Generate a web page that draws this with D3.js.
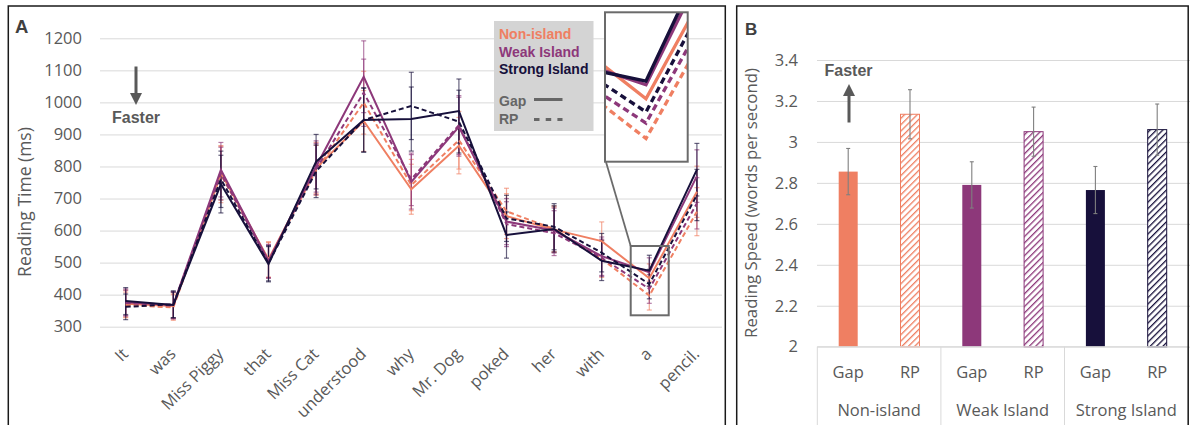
<!DOCTYPE html>
<html>
<head>
<meta charset="utf-8">
<script src="https://cdn.jsdelivr.net/npm/d3@7"></script>
<style>
  body { margin: 0; background: #fff; }
  text { font-family: 'Open Sans', sans-serif; }
</style>
</head>
<body>
<div id="chart"></div>
<script>
// panel A: reading time per word (ms)
var words = ['It', 'was', 'Miss Piggy', 'that', 'Miss Cat', 'understood', 'why',
  'Mr. Dog', 'poked', 'her', 'with', 'a', 'pencil.'];
var nonGap    = [372, 365, 780, 510, 795, 942, 729, 865, 645, 603, 567, 451, 721];
var nonRP     = [368, 360, 775, 508, 788, 999, 742, 882, 660, 605, 512, 397, 659];
var weakGap   = [376, 368, 790, 505, 800, 1080, 752, 924, 628, 600, 520, 470, 770];
var weakRP    = [374, 366, 778, 503, 792, 1030, 760, 929, 620, 592, 515, 418, 685];
var strongGap = [380, 368, 745, 495, 815, 945, 948, 973, 586, 605, 506, 475, 790];
var strongRP  = [362, 370, 760, 498, 785, 945, 989, 940, 638, 612, 531, 433, 711];
var nonGapErr    = [42, 40, 85, 55, 80, 95, 78, 88, 70, 70, 60, 45, 80];
var nonRPErr     = [40, 40, 88, 55, 78, 98, 80, 90, 72, 72, 58, 45, 75];
var weakGapErr   = [42, 42, 85, 52, 80, 112, 85, 92, 72, 70, 60, 45, 82];
var weakRPErr    = [40, 42, 82, 52, 80, 105, 82, 92, 70, 70, 58, 45, 80];
var strongGapErr = [42, 40, 90, 55, 85, 100, 100, 100, 72, 72, 62, 48, 82];
var strongRPErr  = [40, 42, 88, 55, 82, 100, 105, 98, 72, 72, 60, 46, 80];
var timeTicks = [300, 400, 500, 600, 700, 800, 900, 1000, 1100, 1200];

// panel B: reading speed (words per second)
var groups = ['Non-island', 'Weak Island', 'Strong Island'];
var conditions = ['Gap', 'RP'];
var speeds = [2.855, 3.135, 2.79, 3.05, 2.765, 3.06];
var speedErr = [0.113, 0.12, 0.113, 0.12, 0.115, 0.125];
var speedTicks = [2, 2.2, 2.4, 2.6, 2.8, 3, 3.2, 3.4];

var colors = {'Non-island': '#ef7f62', 'Weak Island': '#8d387a', 'Strong Island': '#17103b'};
var gray = '#595959';

var series = [
  {group: 'Non-island', cond: 'Gap', values: nonGap, err: nonGapErr},
  {group: 'Non-island', cond: 'RP', values: nonRP, err: nonRPErr},
  {group: 'Weak Island', cond: 'Gap', values: weakGap, err: weakGapErr},
  {group: 'Weak Island', cond: 'RP', values: weakRP, err: weakRPErr},
  {group: 'Strong Island', cond: 'Gap', values: strongGap, err: strongGapErr},
  {group: 'Strong Island', cond: 'RP', values: strongRP, err: strongRPErr}
];

var svg = d3.select('#chart').append('svg')
  .attr('width', 1190).attr('height', 425);

var defs = svg.append('defs');

// ---------- panel A ----------
var x = d3.scaleBand().domain(words).range([101.9, 720.7]);
var cx = function (w) { return x(w) + x.bandwidth() / 2; };
var y = d3.scaleLinear().domain([300, 1200]).range([326.7, 38.3]);

var gA = svg.append('g');

gA.append('g')
  .attr('transform', 'translate(100,0)')
  .call(d3.axisLeft(y).tickValues(timeTicks).tickSize(-622).tickPadding(18)
    .tickFormat(d3.format('d')))
  .call(function (g) {
    g.select('.domain').remove();
    g.selectAll('line').attr('stroke', '#d9d9d9');
    g.selectAll('text').attr('fill', gray).style('font-size', '16.5px')
      .style('font-family', 'Open Sans');
  });

gA.append('g').selectAll('text')
  .data(words).enter().append('text')
  .attr('transform', function (d) { return 'translate(' + (cx(d) + 3.5) + ',355) rotate(-45)'; })
  .attr('text-anchor', 'end')
  .attr('fill', gray)
  .style('font-size', '16.5px')
  .text(function (d) { return d; });

gA.append('text')
  .attr('transform', 'translate(31,202) rotate(-90)')
  .attr('text-anchor', 'middle')
  .attr('fill', gray)
  .style('font-size', '17.5px')
  .text('Reading Time (ms)');

var line = d3.line()
  .x(function (d, i) { return cx(words[i]); })
  .y(function (d) { return y(d); });

function drawLines(g, width, dash) {
  g.selectAll('path.series')
    .data(series).enter().append('path')
    .attr('class', 'series')
    .attr('d', function (s) { return line(s.values); })
    .attr('fill', 'none')
    .attr('stroke', function (s) { return colors[s.group]; })
    .attr('stroke-width', width)
    .attr('stroke-dasharray', function (s) { return s.cond === 'RP' ? dash : null; });
}

// error bars
series.forEach(function (s) {
  var eb = gA.append('g')
    .attr('stroke', colors[s.group])
    .attr('stroke-opacity', 0.65)
    .attr('stroke-width', 1.2);
  s.values.forEach(function (v, i) {
    var px = cx(words[i]);
    eb.append('line').attr('x1', px).attr('x2', px)
      .attr('y1', y(v - s.err[i])).attr('y2', y(v + s.err[i]));
    eb.append('line').attr('x1', px - 2.5).attr('x2', px + 2.5)
      .attr('y1', y(v - s.err[i])).attr('y2', y(v - s.err[i]));
    eb.append('line').attr('x1', px - 2.5).attr('x2', px + 2.5)
      .attr('y1', y(v + s.err[i])).attr('y2', y(v + s.err[i]));
  });
});

drawLines(gA.append('g'), 2, '5,3');

// legend
var leg = gA.append('g');
leg.append('rect').attr('x', 494).attr('y', 21).attr('width', 99.5).attr('height', 110)
  .attr('fill', '#d4d4d4');
groups.forEach(function (gname, i) {
  leg.append('text')
    .attr('x', 499).attr('y', 39 + i * 17.5)
    .attr('fill', colors[gname])
    .style('font-family', 'Liberation Sans, Arial, sans-serif')
    .style('font-weight', 'bold').style('font-size', '14px')
    .text(gname);
});
conditions.forEach(function (c, i) {
  leg.append('text')
    .attr('x', 499).attr('y', 105.5 + i * 18.5)
    .attr('fill', '#666')
    .style('font-family', 'Liberation Sans, Arial, sans-serif')
    .style('font-weight', 'bold').style('font-size', '14px')
    .text(c);
  leg.append('line')
    .attr('x1', 534).attr('x2', 562.5)
    .attr('y1', 99.5 + i * 20).attr('y2', 99.5 + i * 20)
    .attr('stroke', '#666').attr('stroke-width', 3)
    .attr('stroke-dasharray', c === 'RP' ? '5.5,6.2' : null);
});

// zoom inset around "a"
defs.append('clipPath').attr('id', 'insetClip')
  .append('rect').attr('x', 605).attr('y', 12.3).attr('width', 82.7).attr('height', 149.4);
gA.append('rect').attr('x', 605).attr('y', 12.3).attr('width', 82.7).attr('height', 149.4)
  .attr('fill', '#fff');
var inset = gA.append('g').attr('clip-path', 'url(#insetClip)')
  .append('g').attr('transform', 'translate(-847.4,-541.4) scale(2.3)');
drawLines(inset, 1.45, '2.8,1.75');
gA.append('rect').attr('x', 605).attr('y', 12.3).attr('width', 82.7).attr('height', 149.4)
  .attr('fill', 'none').attr('stroke', '#6b6b6b').attr('stroke-width', 2);
gA.append('rect').attr('x', 630.7).attr('y', 246).attr('width', 38).attr('height', 69.3)
  .attr('fill', 'none').attr('stroke', '#6b6b6b').attr('stroke-width', 2);
gA.append('line').attr('x1', 606).attr('y1', 162).attr('x2', 630.7).attr('y2', 246)
  .attr('stroke', '#6b6b6b').attr('stroke-width', 1.8);

// arrow + "Faster"
defs.append('marker').attr('id', 'head')
  .attr('viewBox', '0 0 10 10').attr('refX', 5).attr('refY', 5)
  .attr('markerWidth', 4).attr('markerHeight', 4).attr('orient', 'auto')
  .append('path').attr('d', 'M0,0 L10,5 L0,10 z').attr('fill', '#595959');
gA.append('line').attr('x1', 136).attr('y1', 66.5).attr('x2', 136).attr('y2', 99)
  .attr('stroke', '#595959').attr('stroke-width', 3).attr('marker-end', 'url(#head)');
gA.append('text').attr('x', 136).attr('y', 122.5).attr('text-anchor', 'middle')
  .attr('fill', '#595959')
  .style('font-family', 'Liberation Sans, Arial, sans-serif')
  .style('font-weight', 'bold').style('font-size', '16px')
  .text('Faster');

gA.append('text').attr('x', 15).attr('y', 33.3)
  .attr('fill', '#404040')
  .style('font-family', 'Liberation Sans, Arial, sans-serif')
  .style('font-weight', 'bold').style('font-size', '18.5px')
  .text('A');

gA.append('rect').attr('x', 8.3).attr('y', 6).attr('width', 717).attr('height', 440)
  .attr('fill', 'none').attr('stroke', '#1a1a1a').attr('stroke-width', 1.5);

// ---------- panel B ----------
var keys = [];
groups.forEach(function (g) { conditions.forEach(function (c) { keys.push(g + '|' + c); }); });
var xb = d3.scaleBand().domain(keys).range([817.3, 1188.1]);
var yb = d3.scaleLinear().domain([2, 3.4]).range([346.7, 60]);
var barW = 19;

var gB = svg.append('g');

gB.append('g')
  .attr('transform', 'translate(817,0)')
  .call(d3.axisLeft(yb).tickValues(speedTicks).tickSize(-373).tickPadding(19)
    .tickFormat(function (d) { return d3.format('')(+d.toFixed(1)); }))
  .call(function (g) {
    g.select('.domain').remove();
    g.selectAll('line').attr('stroke', '#d9d9d9');
    g.selectAll('text').attr('fill', gray).style('font-size', '16.5px')
      .style('font-family', 'Open Sans');
  });

// hatch patterns for RP bars
groups.forEach(function (gname, i) {
  var p = defs.append('pattern').attr('id', 'hatch' + i)
    .attr('patternUnits', 'userSpaceOnUse').attr('width', 4.5).attr('height', 4.5)
    .attr('patternTransform', 'rotate(45)');
  p.append('rect').attr('width', 4.5).attr('height', 4.5).attr('fill', '#fff');
  p.append('line').attr('x1', 0).attr('y1', 0).attr('x2', 0).attr('y2', 4.5)
    .attr('stroke', colors[gname]).attr('stroke-width', 2.6);
});

gB.selectAll('rect.bar')
  .data(keys).enter().append('rect')
  .attr('class', 'bar')
  .attr('x', function (k) { return xb(k) + xb.bandwidth() / 2 - barW / 2; })
  .attr('y', function (k, i) { return yb(speeds[i]); })
  .attr('width', barW)
  .attr('height', function (k, i) { return yb(2) - yb(speeds[i]); })
  .attr('fill', function (k) {
    var g = k.split('|')[0];
    return k.split('|')[1] === 'RP' ? 'url(#hatch' + groups.indexOf(g) + ')' : colors[g];
  })
  .attr('stroke', function (k) { return colors[k.split('|')[0]]; })
  .attr('stroke-width', function (k) { return k.split('|')[1] === 'RP' ? 1 : 0; });

var ebB = gB.append('g').attr('stroke', '#7f7f7f').attr('stroke-width', 1.1);
keys.forEach(function (k, i) {
  var px = xb(k) + xb.bandwidth() / 2;
  var lo = yb(speeds[i] - speedErr[i]), hi = yb(speeds[i] + speedErr[i]);
  ebB.append('line').attr('x1', px).attr('x2', px).attr('y1', lo).attr('y2', hi);
  ebB.append('line').attr('x1', px - 2).attr('x2', px + 2).attr('y1', lo).attr('y2', lo);
  ebB.append('line').attr('x1', px - 2).attr('x2', px + 2).attr('y1', hi).attr('y2', hi);
});

// category axis
gB.append('line').attr('x1', 817.3).attr('x2', 1188.1).attr('y1', 346.7).attr('y2', 346.7)
  .attr('stroke', '#d9d9d9');
[0, 1, 2, 3].forEach(function (i) {
  var px = 817.3 + i * xb.bandwidth() * 2;
  gB.append('line').attr('x1', px).attr('x2', px).attr('y1', 346.7).attr('y2', 425)
    .attr('stroke', '#d9d9d9');
});
gB.selectAll('text.cond')
  .data(keys).enter().append('text')
  .attr('class', 'cond')
  .attr('x', function (k) { return xb(k) + xb.bandwidth() / 2; })
  .attr('y', 378)
  .attr('text-anchor', 'middle')
  .attr('fill', gray).style('font-size', '16.5px')
  .text(function (k) { return k.split('|')[1]; });
gB.selectAll('text.grp')
  .data(groups).enter().append('text')
  .attr('class', 'grp')
  .attr('x', function (g) { return xb(g + '|Gap') + xb.bandwidth(); })
  .attr('y', 416)
  .attr('text-anchor', 'middle')
  .attr('fill', gray).style('font-size', '16.5px')
  .text(function (g) { return g; });

gB.append('text')
  .attr('transform', 'translate(757,203) rotate(-90)')
  .attr('text-anchor', 'middle')
  .attr('fill', gray)
  .style('font-size', '16.8px')
  .text('Reading Speed (words per second)');

gB.append('line').attr('x1', 849).attr('y1', 122.5).attr('x2', 849).attr('y2', 90)
  .attr('stroke', '#595959').attr('stroke-width', 3).attr('marker-end', 'url(#head)');
gB.append('text').attr('x', 848.5).attr('y', 76).attr('text-anchor', 'middle')
  .attr('fill', '#595959')
  .style('font-family', 'Liberation Sans, Arial, sans-serif')
  .style('font-weight', 'bold').style('font-size', '16px')
  .text('Faster');

gB.append('text').attr('x', 745).attr('y', 35)
  .attr('fill', '#404040')
  .style('font-family', 'Liberation Sans, Arial, sans-serif')
  .style('font-weight', 'bold').style('font-size', '17px')
  .text('B');

gB.append('rect').attr('x', 736.7).attr('y', 6).attr('width', 451.5).attr('height', 440)
  .attr('fill', 'none').attr('stroke', '#1a1a1a').attr('stroke-width', 1.5);
</script>
</body>
</html>
